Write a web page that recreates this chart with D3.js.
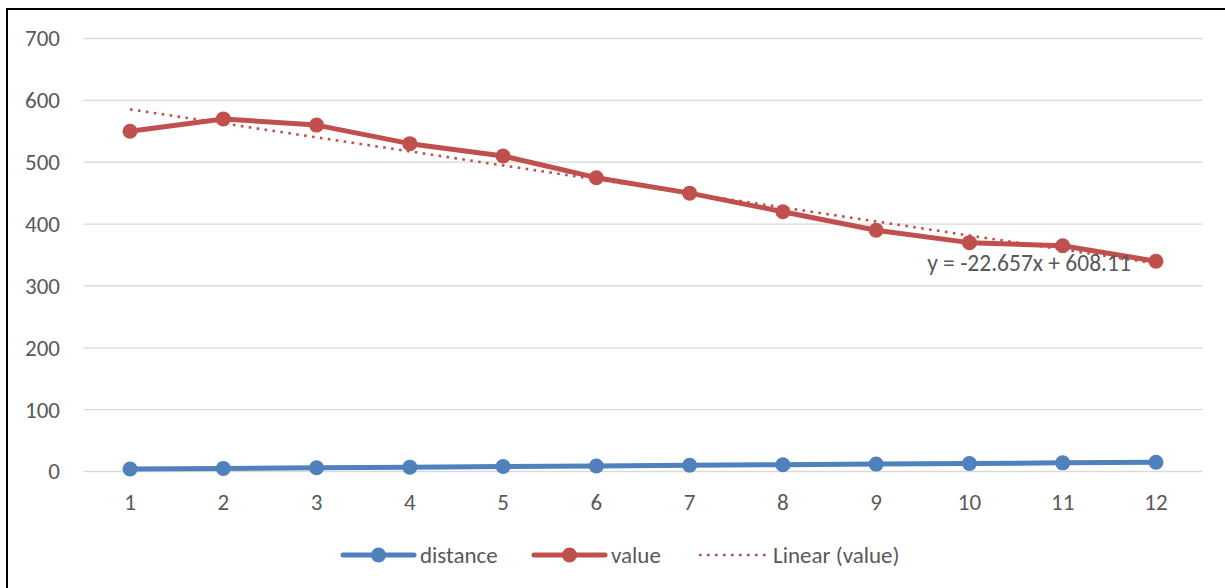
<!DOCTYPE html>
<html><head><meta charset="utf-8">
<script src="https://cdn.jsdelivr.net/npm/d3@7"></script>
<style>body{margin:0;background:#fff}svg{display:block}text{font-family:Carlito,Calibri,"Liberation Sans",sans-serif;fill:#595959}</style>
</head><body>
<script>
const categories = [1,2,3,4,5,6,7,8,9,10,11,12];
const distance = [4,5,6,7,8,9,10,11,12,13,14,15];
const value = [550,570,560,530,510,475,450,420,390,370,365,340];
const yTicks = [0,100,200,300,400,500,600,700];
const trendSlope = -22.657, trendIntercept = 608.11;
const trendLabel = "y = -22.657x + 608.11";
const legendItems = ["distance","value","Linear (value)"];

const W=1225,H=588, FS=23;
const svg=d3.select("body").append("svg").attr("width",W).attr("height",H);
svg.append("rect").attr("x",7).attr("y",9).attr("width",W).attr("height",H).attr("fill","#fff").attr("stroke","#000").attr("stroke-width",2);

const x=d3.scaleBand().domain(categories).range([83.4,1202.6]);
const xc=d=>x(d)+x.bandwidth()/2;
const y=d3.scaleLinear().domain([0,700]).range([471.5,38.5]);

const grid=svg.append("g");
grid.selectAll("line").data(yTicks).join("line")
 .attr("x1",83.4).attr("x2",1202.6).attr("y1",d=>y(d)).attr("y2",d=>y(d))
 .attr("stroke","#d9d9d9").attr("stroke-width",1.3);

const yAxis=svg.append("g").attr("transform","translate(60,0)")
 .call(d3.axisLeft(y).tickValues(yTicks).tickSize(0).tickPadding(0));
yAxis.select(".domain").remove();
yAxis.selectAll("text").attr("font-size",FS).style("fill","#595959").attr("dy","0.32em");

const xAxis=svg.append("g").attr("transform","translate(0,471.5)")
 .call(d3.axisBottom(x).tickSize(0));
xAxis.select(".domain").remove();
xAxis.selectAll("text").attr("font-size",FS).style("fill","#595959").attr("y",38.5).attr("dy",0);

const line=d3.line().x((d,i)=>xc(categories[i])).y(d=>y(d));
function series(data,color){
 svg.append("path").datum(data).attr("d",line).attr("fill","none").attr("stroke",color).attr("stroke-width",5).attr("stroke-linejoin","round");
 svg.append("g").selectAll("circle").data(data).join("circle")
  .attr("cx",(d,i)=>xc(categories[i])).attr("cy",d=>y(d)).attr("r",7.5).attr("fill",color);
}
series(distance,"#4f81bd");
series(value,"#c0504d");

// trendline
const tx0=categories[0], tx1=categories[categories.length-1];
svg.append("line")
 .attr("x1",xc(tx0)).attr("y1",y(trendSlope*tx0+trendIntercept))
 .attr("x2",xc(tx1)).attr("y2",y(trendSlope*tx1+trendIntercept))
 .attr("stroke","#c0504d").attr("stroke-width",2.6).attr("stroke-dasharray","2.6,5.4");
svg.append("text").attr("x",1029).attr("y",271).attr("text-anchor","middle").attr("font-size",23.5).text(trendLabel);

// legend
const lg=svg.append("g").attr("transform","translate(0,555)");
const lx=[343,534,698];
[["#4f81bd",true],["#c0504d",true],["#c0504d",false]].forEach(([c,m],i)=>{
 const g=lg.append("g").attr("transform",`translate(${lx[i]},0)`);
 if(m){
  g.append("line").attr("x1",0).attr("x2",71).attr("stroke",c).attr("stroke-width",5).attr("stroke-linecap","round");
  g.append("circle").attr("cx",35.5).attr("r",7.5).attr("fill",c);
 } else {
  g.append("line").attr("x1",1).attr("x2",70).attr("stroke",c).attr("stroke-width",2.6).attr("stroke-dasharray","2.6,5.4");
 }
 g.append("text").attr("x",m?77:75).attr("y",8).attr("font-size",FS).text(legendItems[i]);
});
</script>
</body></html>
